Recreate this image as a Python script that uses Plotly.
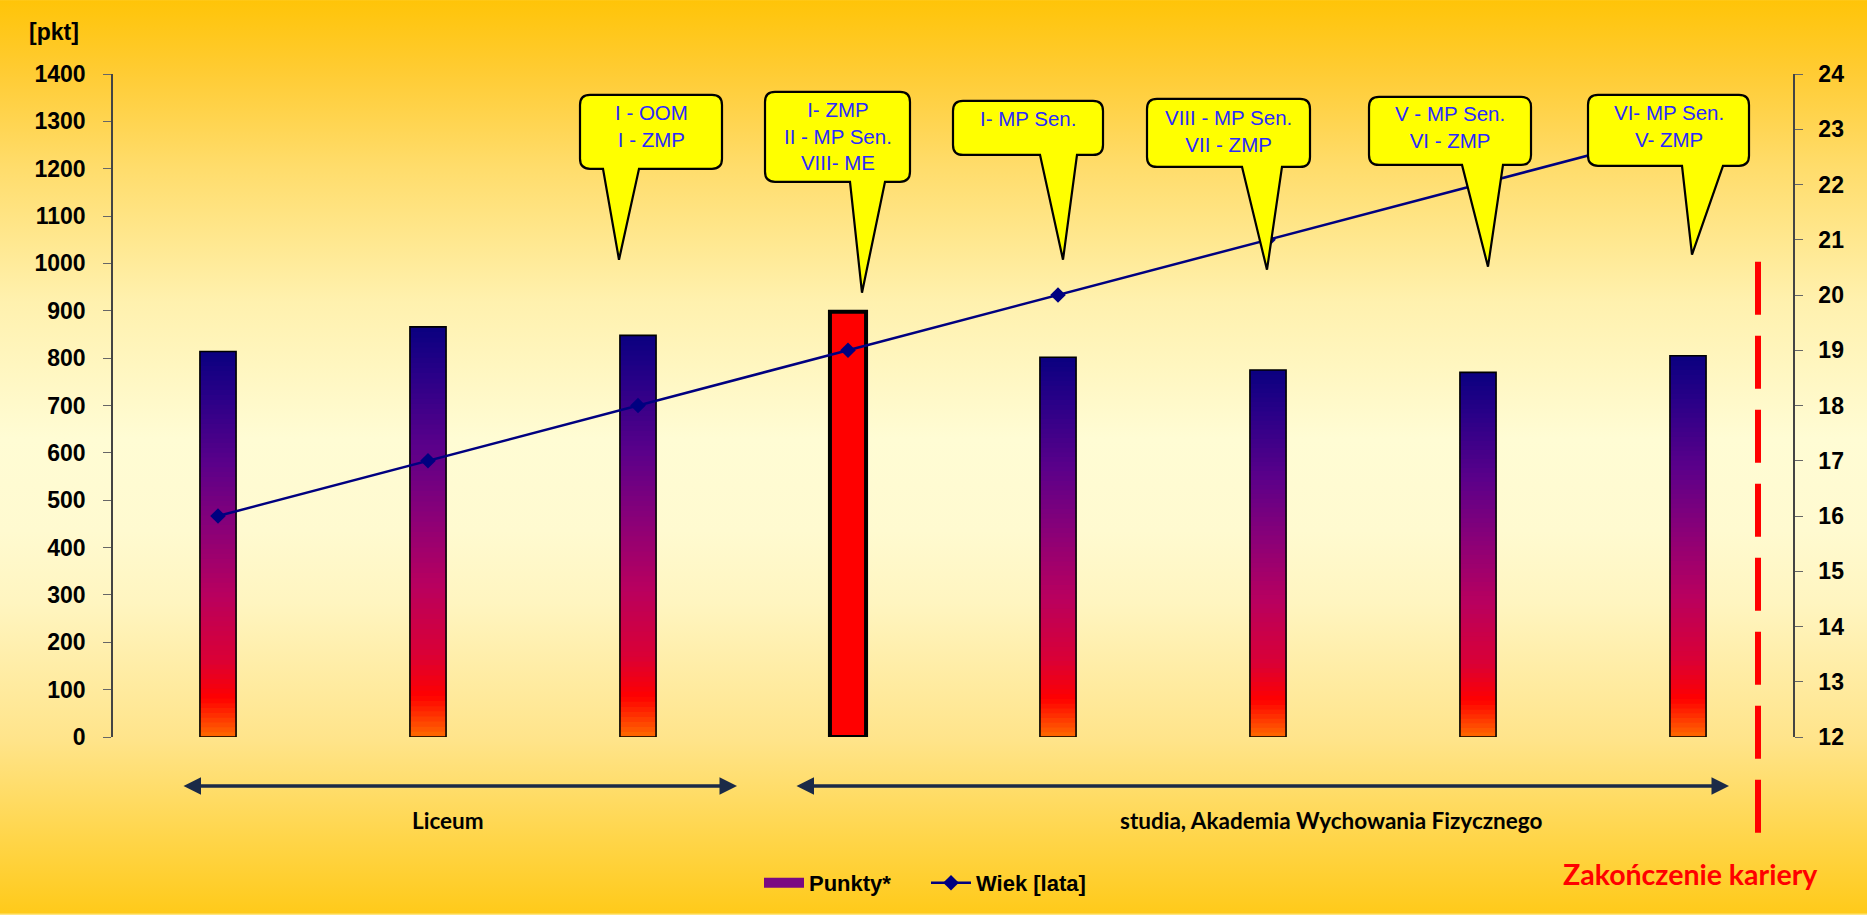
import base64
import numpy as np
import plotly.graph_objects as go

# ---------------- data ----------------
sezony = [0, 1, 2, 3, 4, 5, 6, 7]
punkty = [814, 866, 848, 898, 802, 775, 770, 805]
wiek = [16, 17, 18, 19, 20, 21, 22, 23]
najlepszy = 3
osiagniecia = [
    "I - OOM<br>I - ZMP",
    "I- ZMP<br>II - MP Sen.<br>VIII- ME",
    "I- MP Sen.",
    "VIII - MP Sen.<br>VII - ZMP",
    "V - MP Sen.<br>VI - ZMP",
    "VI- MP Sen.<br>V- ZMP",
]
okresy = ["Liceum", "studia, Akademia Wychowania Fizycznego"]
koniec = "Zakończenie kariery"

# ---------------- geometry helpers ----------------
W, H = 1867, 915
ML, MR, MT, MB = 113, 74, 74, 177
PW, PH = W - ML - MR, H - MT - MB


def px(x):
    return (x - ML) / PW


def py(y):
    return (H - MB - y) / PH


# ---------------- gradient helpers ----------------
bar_stops = [(0.0, "#FF6A00"), (0.1, "#FF0000"), (0.2, "#DA0035"), (0.37, "#B8005F"),
             (0.54, "#8A0078"), (0.71, "#5A008A"), (0.88, "#2A0088"), (1.0, "#0A0080")]


def hex2rgb(h):
    h = h.lstrip("#")
    return np.array([int(h[i:i + 2], 16) for i in (0, 2, 4)], dtype=float)


def interp(t, stops):
    for (t0, c0), (t1, c1) in zip(stops[:-1], stops[1:]):
        if t0 <= t <= t1:
            f = (t - t0) / (t1 - t0) if t1 > t0 else 0
            c = hex2rgb(c0) * (1 - f) + hex2rgb(c1) * f
            return "rgb(%d,%d,%d)" % tuple(np.round(c))
    return stops[-1][1]


N = 80
gx, gbase, gh, gcol = [], [], [], []
for i, (x, v) in enumerate(zip(sezony, punkty)):
    if i == najlepszy:
        continue
    for k in range(N):
        b = v * k / N
        h = v / N * (1.8 if k < N - 1 else 1.0)
        h = min(h, v - b)
        gx.append(x)
        gbase.append(b)
        gh.append(h)
        gcol.append(interp((k + 0.5) / N, bar_stops))

BAR_W = 0.172

fig = go.Figure()
fig.add_trace(go.Bar(x=gx, y=gh, base=gbase, width=BAR_W,
                     marker=dict(color=gcol, line=dict(width=0)),
                     showlegend=False, hoverinfo="skip"))
fig.add_trace(go.Bar(x=sezony, y=punkty, width=BAR_W,
                     marker=dict(color=["#FF0000" if i == najlepszy else "rgba(0,0,0,0)" for i in range(len(sezony))],
                                 line=dict(color="black", width=[4 if i == najlepszy else 1.6 for i in range(len(sezony))])),
                     showlegend=False, name="Punkty*"))
# legend entry for the gradient bars
fig.add_trace(go.Scatter(x=[None], y=[None], name="Punkty*", mode="lines",
                         line=dict(color="#7A0A82", width=12)))
fig.add_trace(go.Scatter(x=sezony, y=wiek, yaxis="y2", mode="lines+markers", name="Wiek [lata]",
                         line=dict(color="#000080", width=2.5),
                         marker=dict(symbol="diamond", size=12, color="#000080")))

# ---------------- background ----------------
bg_stops = [(0.0, "#FFC408"), (0.08, "#FFCC34"), (0.18, "#FFDC6A"), (0.33, "#FFF1AE"),
            (0.48, "#FFFCD4"), (0.58, "#FFFAD0"), (0.66, "#FFF5C0"), (0.81, "#FFE48A"),
            (0.92, "#FFD548"), (1.0, "#FFCA1A")]
stops_svg = "".join('<stop offset="%g" stop-color="%s"/>' % (t, c) for t, c in bg_stops)
svg = ('<svg xmlns="http://www.w3.org/2000/svg" width="%d" height="%d" preserveAspectRatio="none">'
       '<defs><linearGradient id="g" x1="0" y1="0" x2="0" y2="1">%s</linearGradient></defs>'
       '<rect width="100%%" height="100%%" fill="url(#g)"/></svg>') % (W, H, stops_svg)
src = "data:image/svg+xml;base64," + base64.b64encode(svg.encode()).decode()

# ---------------- callouts ----------------
callouts = [
    dict(rect=(580, 95, 722, 169), tail=(603, 639, 619, 260), ty=126.5),
    dict(rect=(765, 92, 910, 182), tail=(850, 885, 862, 293), ty=136),
    dict(rect=(953, 101, 1103, 155), tail=(1040, 1077, 1063, 260), ty=119),
    dict(rect=(1147, 99, 1310, 167), tail=(1242, 1282, 1267, 270), ty=131),
    dict(rect=(1369, 97, 1531, 165), tail=(1462, 1503, 1488, 267), ty=127.5),
    dict(rect=(1588, 95, 1749, 166), tail=(1682, 1723, 1692, 255), ty=126.5),
]


def P(x, y):
    return "%.5f,%.5f" % (px(x), py(y))


shapes = []
annotations = []
r = 10
for c, txt in zip(callouts, osiagniecia):
    x0, y0, x1, y1 = c["rect"]
    b0, b1, tx, ty = c["tail"]
    path = ("M " + P(x0 + r, y0) + " L " + P(x1 - r, y0) + " Q " + P(x1, y0) + " " + P(x1, y0 + r) +
            " L " + P(x1, y1 - r) + " Q " + P(x1, y1) + " " + P(x1 - r, y1) +
            " L " + P(b1, y1) + " L " + P(tx, ty) + " L " + P(b0, y1) +
            " L " + P(x0 + r, y1) + " Q " + P(x0, y1) + " " + P(x0, y1 - r) +
            " L " + P(x0, y0 + r) + " Q " + P(x0, y0) + " " + P(x0 + r, y0) + " Z")
    shapes.append(dict(type="path", xref="paper", yref="paper", path=path,
                       fillcolor="#FFFF00", line=dict(color="black", width=2.2), layer="above"))
    annotations.append(dict(xref="paper", yref="paper", x=px((x0 + x1) / 2), y=py(c["ty"]),
                            xanchor="center", yanchor="middle", text=txt, showarrow=False,
                            font=dict(family="Liberation Sans, Arial", size=20.5, color="#2A2AFF")))

# red dashed "end of career" line
shapes.append(dict(type="line", xref="paper", yref="paper", x0=px(1758), x1=px(1758),
                   y0=py(262), y1=py(836), line=dict(color="#FF0000", width=6, dash="53px,21px"),
                   layer="above"))

# period arrows (double headed)
for (xa, xb) in [(182, 737), (795, 1729)]:
    annotations.append(dict(xref="paper", yref="paper", axref="pixel", ayref="pixel",
                            x=px(xb), y=py(787), ax=xa - xb, ay=0, text="",
                            showarrow=True, arrowhead=2, startarrowhead=2, arrowside="end+start",
                            arrowsize=1, startarrowsize=1, arrowwidth=3.5, arrowcolor="#1B2A47",
                            standoff=0, startstandoff=0))

lab_font = dict(family="Lato, Liberation Sans", size=22.5, color="black", weight="bold")
annotations.append(dict(xref="paper", yref="paper", x=px(448), y=py(822), text=okresy[0],
                        showarrow=False, xanchor="center", yanchor="middle", font=lab_font))
annotations.append(dict(xref="paper", yref="paper", x=px(1331), y=py(822), text=okresy[1],
                        showarrow=False, xanchor="center", yanchor="middle", font=lab_font))
annotations.append(dict(xref="paper", yref="paper", x=px(1690), y=py(875), text=koniec,
                        showarrow=False, xanchor="center", yanchor="middle",
                        font=dict(family="Lato, Liberation Sans", size=28.5, color="#FF0000", weight="bold")))
annotations.append(dict(xref="paper", yref="paper", x=px(54), y=py(32), text="[pkt]",
                        showarrow=False, xanchor="center", yanchor="middle",
                        font=dict(family="Liberation Sans, Arial", size=23, color="black", weight="bold")))

tick_font = dict(family="Liberation Sans, Arial", size=23, color="black", weight="bold")
fig.update_layout(
    width=W, height=H, autosize=False,
    margin=dict(l=ML, r=MR, t=MT, b=MB, pad=0),
    paper_bgcolor="#FFE680", plot_bgcolor="rgba(0,0,0,0)",
    barmode="overlay",
    images=[dict(source=src, xref="paper", yref="paper", x=px(0), y=py(0),
                 sizex=W / PW, sizey=H / PH, xanchor="left", yanchor="top",
                 sizing="stretch", layer="below")],
    xaxis=dict(range=[-0.5, 7.5], visible=False, showgrid=False, zeroline=False),
    yaxis=dict(range=[0, 1400], dtick=100, tick0=0, showgrid=False, zeroline=False,
               showline=True, linecolor="#444", linewidth=1.5, ticks="outside", ticklen=8,
               tickcolor="#666", tickwidth=1.2, tickfont=tick_font, ticklabelstandoff=13),
    yaxis2=dict(range=[12, 24], dtick=1, tick0=12, overlaying="y", side="right",
                showgrid=False, zeroline=False, showline=True, linecolor="#444", linewidth=1.5,
                ticks="outside", ticklen=8, tickcolor="#666", tickwidth=1.2, tickfont=tick_font,
                ticklabelstandoff=11),
    legend=dict(orientation="h", x=px(759), xanchor="left", y=py(883), yanchor="middle",
                font=dict(family="Liberation Sans, Arial", size=22, color="black", weight="bold"),
                bgcolor="rgba(0,0,0,0)", traceorder="normal", entrywidth=112, itemwidth=40),
    shapes=shapes,
    annotations=annotations,
    showlegend=True,
)

fig.write_html("out.html")
